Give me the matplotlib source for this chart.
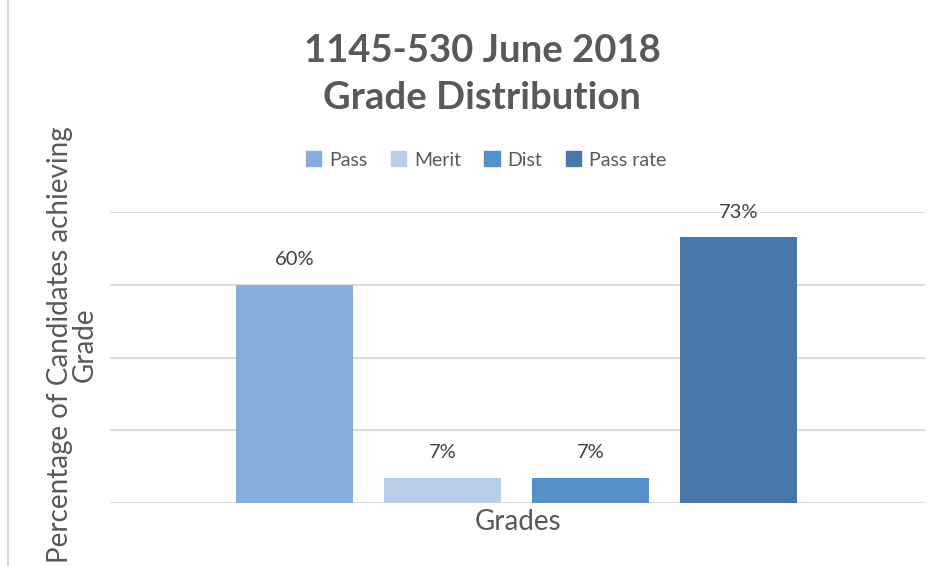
import matplotlib.pyplot as plt
from matplotlib.patches import Rectangle, Patch

# data
categories = ['Pass', 'Merit', 'Dist', 'Pass rate']
values = [60, 7, 7, 73]
labels = ['60%', '7%', '7%', '73%']
colors = ['#85aedb', '#b8cde8', '#5591c8', '#4677a8']

plt.rcParams['font.family'] = ['Lato', 'DejaVu Sans']

fig = plt.figure(figsize=(9.43, 5.66), dpi=100)
ax = fig.add_axes([110 / 943, 1 - 503 / 566, 815 / 943, 291 / 566])

x = list(range(len(categories)))
bars = ax.bar(x, values, width=0.79, color=colors, zorder=3)
for b, lab in zip(bars, labels):
    ax.text(b.get_x() + b.get_width() / 2, b.get_height() + 4.5, lab,
            ha='center', va='bottom', fontsize=14.5, color='#404040')

ax.set_xlim(-1.25, 4.26)
ax.set_ylim(0, 80)
ax.set_yticks([0, 20, 40, 60, 80])
ax.yaxis.grid(True, color='#d9d9d9', linewidth=1.3, zorder=0)
ax.tick_params(left=False, bottom=False, labelleft=False, labelbottom=False)
for s in ax.spines.values():
    s.set_visible(False)

fig.text(518 / 943, 1 - 522 / 566, 'Grades', ha='center', va='center',
         fontsize=20, color='#595959')
fig.text(72 / 943, 1 - 345 / 566, 'Percentage of Candidates achieving\nGrade',
         rotation=90, ha='center', va='center', fontsize=20, color='#595959',
         linespacing=0.95)

fig.text(482 / 943, 1 - 51 / 566, '1145-530 June 2018', ha='center', va='center',
         fontsize=27.5, fontweight='bold', color='#595959')
fig.text(482 / 943, 1 - 98 / 566, 'Grade Distribution', ha='center', va='center',
         fontsize=27.5, fontweight='bold', color='#595959')

handles = [Patch(color=c, label=n) for c, n in zip(colors, categories)]
fig.legend(handles=handles, loc='center', bbox_to_anchor=(486 / 943, 1 - 160 / 566),
           ncol=4, frameon=False, fontsize=14, handlelength=0.8, handleheight=0.8,
           handletextpad=0.4, columnspacing=1.2, labelcolor='#595959')

# chart border
fig.patches.append(Rectangle((8 / 943, -0.1), 2, 1.1 - 8 / 566 + 0.1,
                             transform=fig.transFigure, fill=False,
                             edgecolor='#d9d9d9', linewidth=1.5))

fig.savefig('out.png', dpi=100)
